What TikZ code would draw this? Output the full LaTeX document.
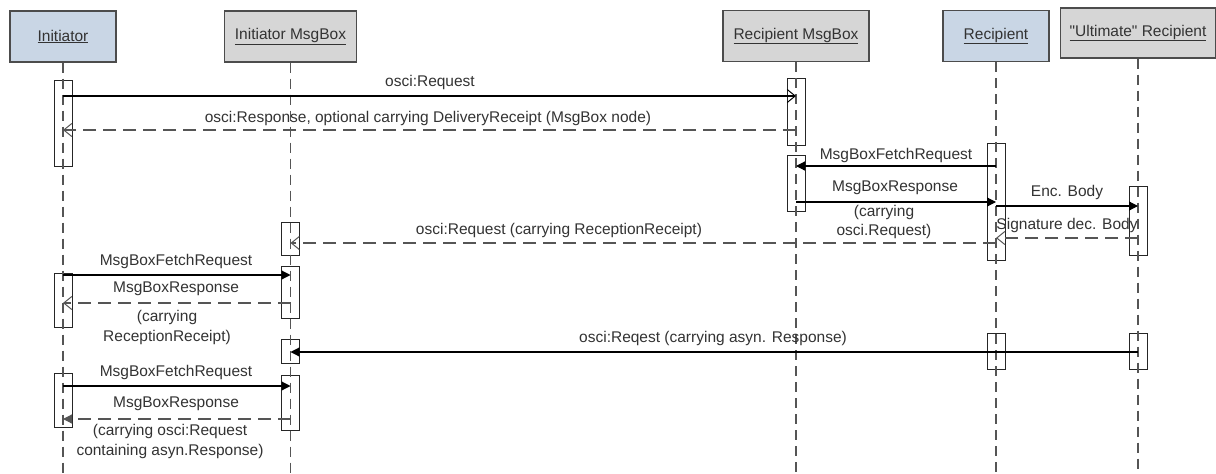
\documentclass[tikz,border=0pt]{standalone}
\usepackage{fontspec}
\setmainfont{Liberation Sans}
\usetikzlibrary{arrows.meta}
\definecolor{hdrblue}{HTML}{C9D6E5}
\definecolor{hdrgray}{HTML}{D6D6D6}
\definecolor{txtc}{HTML}{333333}
\definecolor{lnc}{HTML}{555555}
\newcommand{\straightquote}{\XeTeXglyph\XeTeXcharglyph"22\relax}
\begin{document}
\begin{tikzpicture}[x=1pt,y=-1pt,
  font=\fontsize{15.5}{19.5}\selectfont, text=txtc,
  hdr/.style={draw=black!70, line width=1.3pt, minimum height=51pt, inner sep=0pt},
  act/.style={draw=black!85, fill=white, line width=0.9pt, minimum width=18pt, inner sep=0pt},
  life/.style={draw=lnc, line width=1.3pt, dash pattern=on 10pt off 6pt},
  sync/.style={draw=black, line width=1.2pt, -{Triangle[length=9pt,width=9pt]}},
  callopen/.style={draw=black, line width=1.2pt, -{Straight Barb[length=8pt,width=13pt,line width=1pt]}},
  retopen/.style={draw=lnc, line width=1.2pt, dash pattern=on 13pt off 7pt, -{Straight Barb[length=8pt,width=13pt,line width=1pt]}},
  retfill/.style={draw=lnc, line width=1.2pt, dash pattern=on 13pt off 7pt, -{Triangle[length=9pt,width=9pt]}},
  lbl/.style={inner sep=0pt, align=center}]
\useasboundingbox (0,0) rectangle (1216,474);
\fill[white] (0,0) rectangle (1216,474);
% headers
\node[hdr, fill=hdrblue, minimum width=106pt] (I) at (63,36.5) {\underline{Initiator}};
\node[hdr, fill=hdrgray, minimum width=132pt] (IM) at (290.5,36.5) {\underline{Initiator MsgBox}};
\node[hdr, fill=hdrgray, minimum width=146pt] (RM) at (796,36) {\underline{Recipient MsgBox}};
\node[hdr, fill=hdrblue, minimum width=106pt] (R) at (996,36) {\underline{Recipient}};
\node[hdr, fill=hdrgray, minimum width=155pt, minimum height=50pt] (U) at (1138,33) {\underline{\straightquote Ultimate\straightquote{} Recipient}};
% activations
\node[act, minimum height=86pt] (aI1) at (63,123) {};
\node[act, minimum height=67pt] (aRM1) at (796,111.5) {};
\node[act, minimum height=56pt] (aRM2) at (796,183) {};
\node[act, minimum height=117pt] (aR1) at (996,201.5) {};
\node[act, minimum height=69pt] (aU1) at (1138,220.5) {};
\node[act, minimum height=33pt] (aIM1) at (290.5,238.5) {};
\node[act, minimum height=52pt] (aIM2) at (290.5,292) {};
\node[act, minimum height=54pt] (aI2) at (63,300) {};
\node[act, minimum height=24pt] (aIM3) at (290.5,351) {};
\node[act, minimum height=36pt] (aR2) at (996,351) {};
\node[act, minimum height=36pt] (aU2) at (1138,351) {};
\node[act, minimum height=55pt] (aIM4) at (290.5,402.5) {};
\node[act, minimum height=54pt] (aI3) at (63,400) {};
% lifelines
\foreach \n in {I,IM,RM,R,U}{\draw[life] (\n.south) -- (\n.south |- 0,474);}
% messages
\draw[callopen] (I |- 0,96) -- (RM |- 0,96);
\draw[retopen] (RM |- 0,130) -- (I |- 0,130);
\draw[sync] (R |- 0,166) -- (RM |- 0,166);
\draw[sync] (RM |- 0,202) -- (R |- 0,202);
\draw[sync] (R |- 0,206) -- (U |- 0,206);
\draw[retopen] (U |- 0,238) -- (R |- 0,238);
\draw[retopen] (R |- 0,243) -- (IM |- 0,243);
\draw[sync] (I |- 0,275) -- (IM |- 0,275);
\draw[retopen] (IM |- 0,303) -- (I |- 0,303);
\draw[sync] (U |- 0,352) -- (IM |- 0,352);
\draw[sync] (I |- 0,386) -- (IM |- 0,386);
\draw[retfill] (IM |- 0,419) -- (I |- 0,419);
% labels
\node[lbl] (t1) at (430,82) {osci:Request};
\node[lbl] (t2) at (428,118) {osci:Response, optional carrying DeliveryReceipt (MsgBox node)};
\node[lbl] (t3) at (896,155) {MsgBoxFetchRequest};
\node[lbl] (t4) at (895,188) {MsgBoxResponse};
\node[lbl] (t4b) at (884,222) {(carrying\\osci.Request)};
\node[lbl] (t5) at (1067,192) {Enc. Body};
\node[lbl] (t6) at (1067,225) {Signature dec. Body};
\node[lbl] (t7) at (559,230) {osci:Request (carrying ReceptionReceipt)};
\node[lbl] (t8) at (176,261) {MsgBoxFetchRequest};
\node[lbl] (t9) at (176,289) {MsgBoxResponse};
\node[lbl] (t9b) at (167,327.5) {(carrying\\ReceptionReceipt)};
\node[lbl] (t10) at (713,338) {osci:Reqest (carrying asyn. Response)};
\node[lbl] (t11) at (176,372) {MsgBoxFetchRequest};
\node[lbl] (t12) at (176,404) {MsgBoxResponse};
\node[lbl] (t12b) at (170,441.5) {(carrying osci:Request\\containing asyn.Response)};
\end{tikzpicture}
\end{document}
